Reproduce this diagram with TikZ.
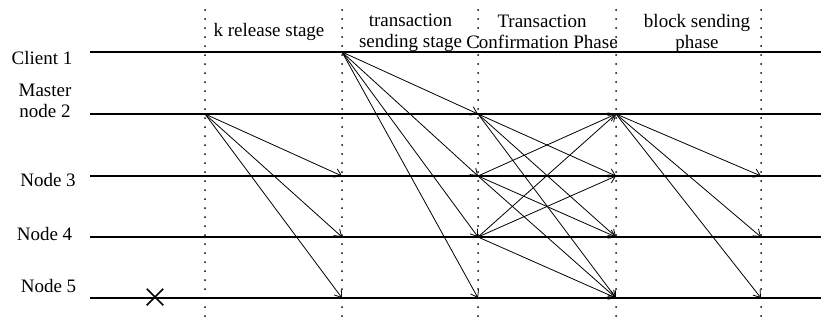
\documentclass[tikz,border=0pt]{standalone}
\usepackage{fontspec}
\setmainfont{Liberation Serif}
\usetikzlibrary{arrows.meta,shapes.misc}
\begin{document}
\begin{tikzpicture}[x=1pt,y=-1pt,
  lifeline/.style={line width=1.2pt},
  phaseline/.style={line width=2pt, line cap=round, dash pattern=on 0pt off 9pt},
  msg/.style={line width=0.8pt, -{Straight Barb[length=6.5pt,width=9pt]}},
  lbl/.style={font=\fontsize{19}{21}\selectfont, inner sep=0pt, align=center}]
\useasboundingbox (0,0) rectangle (821,322);

% event points: one per lifeline and phase boundary
\foreach \r/\y in {cl/52, ms/114, n3/176, n4/237, n5/298}{
  \coordinate (\r-start) at (90,\y);
  \coordinate (\r-end) at (821,\y);
  \foreach \k/\x in {1/205, 2/342, 3/478, 4/616, 5/761}
    \coordinate (\r-\k) at (\x,\y);
}

% phase boundaries
\foreach \k/\x in {1/205, 2/342, 3/478, 4/616, 5/761}{
  \coordinate (top-\k) at (\x,10);
  \coordinate (bot-\k) at (\x,316);
  \draw[phaseline] (top-\k) -- (bot-\k);
}

% lifelines
\foreach \r in {cl, ms, n3, n4, n5}
  \draw[lifeline] (\r-start) -- (\r-end);

% participant names
\node[lbl] (client) at (42,57.5) {Client 1};
\node[lbl] (master) at (45,100.5) {Master\\node 2};
\node[lbl] (node3) at (48,179.5) {Node 3};
\node[lbl] (node4) at (44.5,233.5) {Node 4};
\node[lbl] (node5) at (48.5,285.5) {Node 5};

% phase titles
\node[lbl] (ph1) at (269,32) {k release stage};
\node[lbl] (ph2) at (410.5,32.5) {transaction\\sending stage};
\node[lbl] (ph3) at (542,31.5) {Transaction\\Confirmation Phase};
\node[lbl] (ph4) at (697,33) {block sending\\phase};

% failed node
\node[cross out, draw, line width=1.5pt, minimum size=15pt, inner sep=0pt] (fail) at (155,297) {};

% k release
\foreach \t in {n3, n4, n5}
  \draw[msg] (ms-1) -- (\t-2);
% transaction sending
\foreach \t in {ms, n3, n4, n5}
  \draw[msg] (cl-2) -- (\t-3);
% transaction confirmation
\foreach \s/\tl in {ms/{n3,n4,n5}, n3/{ms,n4,n5}, n4/{ms,n3,n5}}
  \foreach \t in \tl
    \draw[msg] (\s-3) -- (\t-4);
% block sending
\foreach \t in {n3, n4, n5}
  \draw[msg] (ms-4) -- (\t-5);
\end{tikzpicture}
\end{document}
